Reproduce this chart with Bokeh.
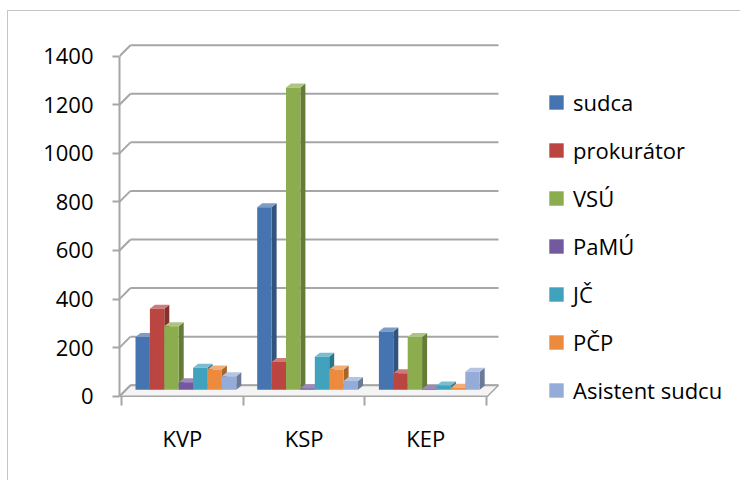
from bokeh.plotting import figure
from bokeh.models import FixedTicker, Legend, LegendItem, Range1d
from bokeh.embed import file_html
from bokeh.resources import INLINE

# ---------------- data ----------------
categories = ["KVP", "KSP", "KEP"]
series_names = ["sudca", "prokurátor", "VSÚ", "PaMÚ", "JČ", "PČP", "Asistent sudcu"]
sudca = [217, 752, 240]
prokurator = [334, 114, 68]
vsu = [262, 1245, 217]
pamu = [31, 6, 3]
jc = [91, 136, 18]
pcp = [84, 84, 8]
asistent = [56, 36, 74]
y_ticks = [0, 200, 400, 600, 800, 1000, 1200, 1400]
series_colors = ["#4674B0", "#BA4541", "#8CAD4D", "#7359A0", "#41A2BE", "#EC8A3E", "#94ACD7"]

series_values = [sudca, prokurator, vsu, pamu, jc, pcp, asistent]

# ---------------- layout ----------------
W, H = 733, 470
LEFT, TOP, BOTTOM, RIGHT = 111, 19, 76, 0
frame_w = W - LEFT - RIGHT
frame_h = H - TOP - BOTTOM
KY = 340.0 / 1400.0      # px per value unit
KX = 121.7               # px per category
x_start = -2.0 / KX
x_end = x_start + frame_w / KX
y_start = -9.3 / KY
y_end = y_start + frame_h / KY

DX = 11.0 / KX           # depth offset of back wall
DY = 11.0 / KY
BASE = 6.4 / KY          # bar base (bar depth plane)
GROUP_OFF = 14.0 / KX
BW = 14.4 / KX
BDX = 5.0 / KX
BDY = 4.0 / KY
XR = (498.0 - 121.0) / KX

FONT = "Open Sans"
GRID = "#a6a6a6"


def shade(hexcol, f):
    r, g, b = int(hexcol[1:3], 16), int(hexcol[3:5], 16), int(hexcol[5:7], 16)
    if f < 1:
        r, g, b = r * f, g * f, b * f
    else:
        t = f - 1
        r, g, b = r + (255 - r) * t, g + (255 - g) * t, b + (255 - b) * t
    return "#%02x%02x%02x" % (int(r), int(g), int(b))


p = figure(width=W, height=H, output_backend="svg", toolbar_location=None,
           x_range=Range1d(x_start, x_end), y_range=Range1d(y_start, y_end),
           min_border_left=LEFT, min_border_right=RIGHT,
           min_border_top=TOP, min_border_bottom=BOTTOM)
p.styles = {"border-left": "1px solid #c4c4c4", "border-top": "1px solid #c4c4c4",
            "position": "relative", "top": "10px", "left": "7px"}
p.outline_line_color = None
p.xgrid.visible = False
p.ygrid.visible = False
p.background_fill_color = "white"
p.border_fill_color = "white"

# floor
p.patch([x_start, XR - DX, XR, x_start + DX], [0, 0, DY, DY],
        fill_color="#f4f4f4", line_color=GRID, line_width=1.5)

# back wall gridlines with diagonal to the front axis
n = len(y_ticks)
p.segment(x0=[x_start] * n, y0=y_ticks, x1=[x_start + DX] * n,
          y1=[v + DY for v in y_ticks], line_color=GRID, line_width=2)
p.segment(x0=[x_start + DX] * n, y0=[v + DY for v in y_ticks], x1=[XR] * n,
          y1=[v + DY for v in y_ticks], line_color=GRID, line_width=2)

# bars
legend_items = []
for i, (name, vals, col) in enumerate(zip(series_names, series_values, series_colors)):
    lefts = [c + GROUP_OFF + i * BW for c in range(len(categories))]
    rights = [l + BW for l in lefts]
    tops = [BASE + v for v in vals]
    side_xs = [[r, r + BDX, r + BDX, r] for r in rights]
    side_ys = [[BASE, BASE + BDY, t + BDY, t] for t in tops]
    cap_xs = [[l, r, r + BDX, l + BDX] for l, r in zip(lefts, rights)]
    cap_ys = [[t, t, t + BDY, t + BDY] for t in tops]
    p.patches(side_xs, side_ys, fill_color=shade(col, 0.72), line_color=None)
    p.patches(cap_xs, cap_ys, fill_color=shade(col, 1.3), line_color=None)
    fr = p.quad(left=lefts, right=rights, bottom=[BASE] * len(vals), top=tops,
                fill_color=col, line_color=None)
    legend_items.append(LegendItem(label=name, renderers=[fr]))

# y axis
ya = p.yaxis[0]
ya.ticker = FixedTicker(ticks=y_ticks)
ya.bounds = (0, 1400)
ya.axis_line_color = GRID
ya.axis_line_width = 2
ya.major_tick_out = 7
ya.major_tick_in = 0
ya.major_tick_line_color = GRID
ya.major_tick_line_width = 2
ya.minor_tick_line_color = None
ya.major_label_standoff = 19
ya.major_label_text_font = FONT
ya.major_label_text_font_size = "22px"
ya.major_label_text_color = "black"

# x axis (category labels at centers, ticks at boundaries)
xa = p.xaxis[0]
centers = [i + 0.5 for i in range(len(categories))]
xa.ticker = FixedTicker(ticks=centers, minor_ticks=list(range(len(categories) + 1)))
xa.major_label_overrides = {c: lab for c, lab in zip(centers, categories)}
xa.axis_line_color = None
xa.major_tick_line_color = None
xa.major_tick_out = 0
xa.major_tick_in = 0
xa.minor_tick_in = 9
xa.minor_tick_out = 0
xa.minor_tick_line_color = GRID
xa.minor_tick_line_width = 2
xa.major_label_standoff = 17
xa.major_label_text_font = FONT
xa.major_label_text_font_size = "22px"
xa.major_label_text_color = "black"

legend = Legend(items=legend_items, location=(428, 0),
                label_text_font=FONT, label_text_font_size="22px",
                label_text_color="black",
                glyph_width=18, glyph_height=18, label_standoff=8,
                label_height=30, spacing=18, padding=0, margin=0,
                border_line_color=None, background_fill_alpha=0)
p.add_layout(legend)

open("out.html", "w").write(file_html(p, INLINE))
